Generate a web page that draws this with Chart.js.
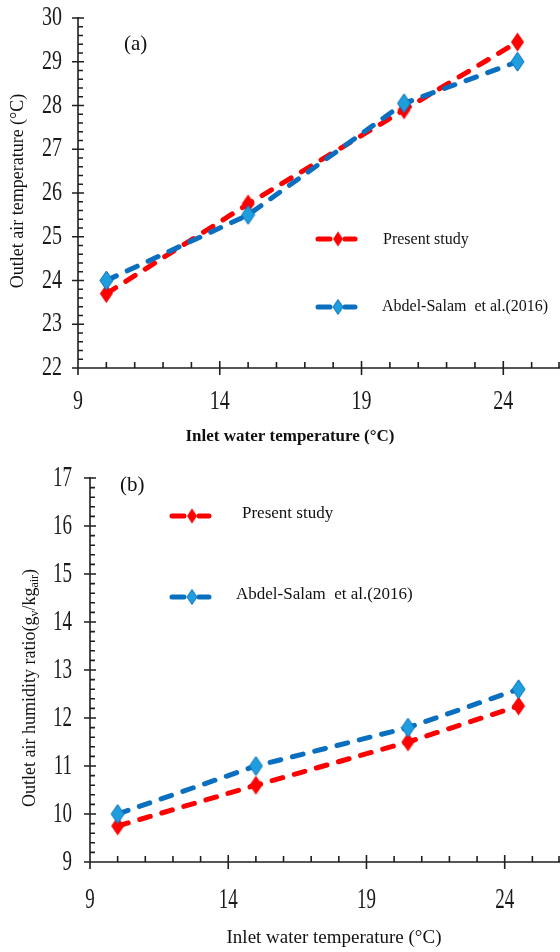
<!DOCTYPE html>
<html>
<head>
<meta charset="utf-8">
<style>
  html, body { margin: 0; padding: 0; background: #fff; }
  #wrap { position: relative; width: 560px; height: 952px; overflow: hidden; }
  canvas { position: absolute; left: 0; }
  #chartA { top: 0; }
  #chartB { top: 460px; }
</style>
<script src="https://cdn.jsdelivr.net/npm/chart.js@4.4.1/dist/chart.umd.min.js"></script>
</head>
<body>
<div id="wrap">
  <canvas id="chartA" width="560" height="460"></canvas>
  <canvas id="chartB" width="560" height="492"></canvas>
</div>
<script>
// Inlet water temperature (°C) for both panels
const inletTemp = [10, 15, 20.5, 24.5];

// (a) Outlet air temperature (°C)
const airTempPresent = [23.7, 25.75, 27.9, 29.45];
const airTempAbdel   = [24.0, 25.5, 28.05, 29.0];

// (b) Outlet air humidity ratio (g_v/kg_air)
const humidityPresent = [9.75, 10.6, 11.5, 12.25];
const humidityAbdel   = [10.0, 11.0, 11.8, 12.6];

// Tick labels
const xTickLabels        = [9, 14, 19, 24];
const airTempTickLabels  = [22, 23, 24, 25, 26, 27, 28, 29, 30];
const humidityTickLabels = [9, 10, 11, 12, 13, 14, 15, 16, 17];

// Series names
const seriesNames = ['Present study', 'Abdel-Salam  et al.(2016)'];

const RED = '#ff0000';
const BLUE_LINE = '#0b6fc0';
const BLUE_FILL = '#1e9edc';
const AXIS = '#1f1f1f';
const SERIF = '"Liberation Serif", "DejaVu Serif", serif';

// Tall diamond marker drawn into an offscreen canvas
function diamond(w, h, fill, stroke) {
  const c = document.createElement('canvas');
  c.width = w + 2; c.height = h + 2;
  const g = c.getContext('2d');
  g.beginPath();
  g.moveTo(c.width / 2, 1);
  g.lineTo(w + 1, c.height / 2);
  g.lineTo(c.width / 2, h + 1);
  g.lineTo(1, c.height / 2);
  g.closePath();
  g.fillStyle = fill;
  g.fill();
  if (stroke) { g.strokeStyle = stroke; g.lineWidth = 1; g.stroke(); }
  return c;
}

const redMark  = diamond(13, 19, RED, null);
const blueMark = diamond(13, 19, BLUE_FILL, BLUE_LINE);
const redKey   = diamond(10, 15, RED, null);
const blueKey  = diamond(10, 15, BLUE_FILL, BLUE_LINE);

function pts(xs, ys) { return xs.map((x, i) => ({ x: x, y: ys[i] })); }

function series(label, values, color, mark, order) {
  return {
    label: label,
    data: pts(inletTemp, values),
    borderColor: color,
    backgroundColor: color,
    borderWidth: 5,
    borderDash: [11, 12],
    borderCapStyle: 'round',
    pointStyle: mark,
    pointRadius: 9,
    pointHoverRadius: 9,
    fill: false,
    tension: 0,
    clip: false,
    order: order
  };
}

function stretchedText(ctx, txt, x, y, align, font, sy) {
  ctx.save();
  ctx.translate(x, y);
  ctx.scale(1, sy);
  ctx.font = font;
  ctx.textAlign = align;
  ctx.textBaseline = 'middle';
  ctx.fillText(txt, 0, 0);
  ctx.restore();
}

// Axes with crossing major ticks and inward minor ticks, plus labels and key
const framePlugin = {
  id: 'frame',
  beforeDatasetsDraw(chart, args, o) {
    const ctx = chart.ctx, ca = chart.chartArea;
    const xs = chart.scales.x, ys = chart.scales.y;
    ctx.save();
    ctx.strokeStyle = AXIS;
    ctx.lineWidth = 1.6;
    ctx.beginPath();
    ctx.moveTo(ca.left - 6, ca.bottom); ctx.lineTo(ca.right, ca.bottom);
    ctx.moveTo(ca.left, ca.bottom); ctx.lineTo(ca.left, ca.top - 1);
    // y major + minor ticks
    for (let i = 0; i < o.yTicks.length; i++) {
      const v = o.yTicks[i];
      const p = ys.getPixelForValue(v);
      ctx.moveTo(ca.left - 6, p); ctx.lineTo(ca.left + 6, p);
      if (i < o.yTicks.length - 1) {
        const step = (o.yTicks[i + 1] - v) / o.yMinor;
        for (let k = 1; k < o.yMinor; k++) {
          const q = ys.getPixelForValue(v + k * step);
          ctx.moveTo(ca.left, q); ctx.lineTo(ca.left + 5, q);
        }
      }
    }
    // x major + minor ticks
    for (let v = xs.min; v <= xs.max + 1e-9; v += o.xMinorStep) {
      const p = Math.min(xs.getPixelForValue(v), ca.right - 1);
      if (o.xTicks.includes(v)) {
        ctx.moveTo(p, ca.bottom - 7); ctx.lineTo(p, ca.bottom + 7);
      } else {
        ctx.moveTo(p, ca.bottom); ctx.lineTo(p, ca.bottom - 6);
      }
    }
    ctx.stroke();

    // tick labels
    ctx.fillStyle = '#1a1a1a';
    o.yTicks.forEach(v => {
      stretchedText(ctx, String(v), ca.left - o.yLabelGap, ys.getPixelForValue(v), 'right', o.tickFont, o.tickStretch);
    });
    o.xTicks.forEach(v => {
      stretchedText(ctx, String(v), xs.getPixelForValue(v), ca.bottom + o.xLabelGap, 'center', o.tickFont, o.tickStretch);
    });
    ctx.restore();
  },
  afterDraw(chart, args, o) {
    const ctx = chart.ctx;
    ctx.save();
    ctx.fillStyle = '#111';
    ctx.textBaseline = 'middle';

    // panel tag
    ctx.font = o.tagFont;
    ctx.textAlign = 'left';
    ctx.fillText(o.tag, o.tagX, o.tagY);

    // x title
    ctx.font = o.xTitleFont;
    ctx.textAlign = 'center';
    ctx.fillText(o.xTitle, o.xTitleX, o.xTitleY);

    // y title (rotated, with optional subscripts)
    ctx.save();
    ctx.translate(o.yTitleX, o.yTitleY);
    ctx.rotate(-Math.PI / 2);
    ctx.textAlign = 'left';
    let total = 0;
    o.yTitle.forEach(s => { ctx.font = s.sub ? o.subFont : o.yTitleFont; total += ctx.measureText(s.t).width; });
    let cx = -total / 2;
    o.yTitle.forEach(s => {
      ctx.font = s.sub ? o.subFont : o.yTitleFont;
      ctx.fillText(s.t, cx, s.sub ? 5 : 0);
      cx += ctx.measureText(s.t).width;
    });
    ctx.restore();

    // key
    const ds = chart.data.datasets;
    o.keys.forEach((k, i) => {
      const d = ds[i];
      ctx.strokeStyle = d.borderColor;
      ctx.lineWidth = 5;
      ctx.lineCap = 'round';
      ctx.beginPath();
      ctx.moveTo(k.x0 + 2, k.y); ctx.lineTo(k.x0 + 14, k.y);
      ctx.moveTo(k.x0 + 29, k.y); ctx.lineTo(k.x0 + 39, k.y);
      ctx.stroke();
      const img = i === 0 ? redKey : blueKey;
      ctx.drawImage(img, k.x0 + 22 - img.width / 2, k.y - img.height / 2);
      ctx.fillStyle = '#111';
      ctx.font = o.keyFont;
      ctx.textAlign = 'left';
      ctx.fillText(d.label, k.tx, k.ty);
    });
    ctx.restore();
  }
};

function makeChart(id, present, abdel, yMin, yMax, yW, xH, frame) {
  return new Chart(document.getElementById(id), {
    type: 'line',
    data: {
      datasets: [
        series(seriesNames[0], present, RED, redMark, 1),
        series(seriesNames[1], abdel, BLUE_LINE, blueMark, 0)
      ]
    },
    options: {
      responsive: false,
      animation: false,
      devicePixelRatio: 1,
      layout: { autoPadding: false, padding: { top: 18, right: 0, left: 0, bottom: 0 } },
      plugins: { legend: { display: false }, tooltip: { enabled: false }, frame: frame },
      scales: {
        x: {
          type: 'linear', min: 9, max: 26,
          grid: { display: false }, border: { display: false },
          ticks: { display: false },
          afterFit: s => { s.height = xH; }
        },
        y: {
          type: 'linear', min: yMin, max: yMax,
          grid: { display: false }, border: { display: false },
          ticks: { display: false },
          afterFit: s => { s.width = yW; }
        }
      }
    },
    plugins: [framePlugin]
  });
}

makeChart('chartA', airTempPresent, airTempAbdel, 22, 30, 78, 92, {
  yTicks: airTempTickLabels, yMinor: 5, xTicks: xTickLabels, xMinorStep: 1,
  tickFont: '20px ' + SERIF, tickStretch: 1.35, yLabelGap: 16, xLabelGap: 34,
  tag: '(a)', tagX: 124, tagY: 44, tagFont: '21px ' + SERIF,
  xTitleFont: 'bold 17px ' + SERIF, yTitleFont: '18px ' + SERIF, subFont: '12px ' + SERIF,
  xTitle: 'Inlet water temperature (\u00B0C)', xTitleX: 290, xTitleY: 437,
  yTitle: [{ t: 'Outlet air temperature (\u00B0C)' }], yTitleX: 18, yTitleY: 191,
  keyFont: '16px ' + SERIF,
  keys: [
    { x0: 316, y: 239, tx: 383, ty: 240 },
    { x0: 316, y: 307, tx: 382, ty: 307 }
  ]
});

makeChart('chartB', humidityPresent, humidityAbdel, 9, 17, 90, 90, {
  yTicks: humidityTickLabels, yMinor: 5, xTicks: xTickLabels, xMinorStep: 1,
  tickFont: '19px ' + SERIF, tickStretch: 1.55, yLabelGap: 18, xLabelGap: 38,
  tag: '(b)', tagX: 120, tagY: 25, tagFont: '21px ' + SERIF,
  xTitleFont: '19px ' + SERIF, yTitleFont: '18px ' + SERIF, subFont: '12px ' + SERIF,
  xTitle: 'Inlet water temperature (\u00B0C)', xTitleX: 334, xTitleY: 478,
  yTitle: [
    { t: 'Outlet air humidity ratio(g' }, { t: 'v', sub: true },
    { t: '/kg' }, { t: 'air', sub: true }, { t: ')' }
  ],
  yTitleX: 30, yTitleY: 228,
  keyFont: '17px ' + SERIF,
  keys: [
    { x0: 170, y: 56, tx: 242, ty: 54 },
    { x0: 170, y: 137, tx: 236, ty: 135 }
  ]
});
</script>
</body>
</html>
